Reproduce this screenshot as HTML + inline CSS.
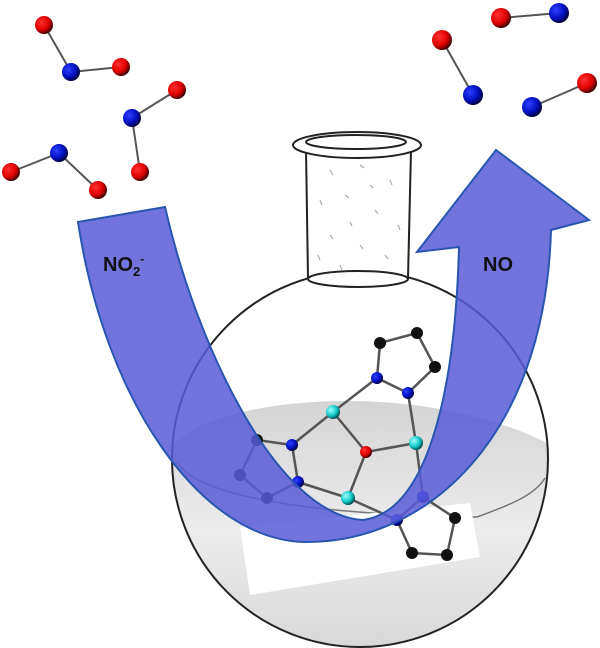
<!DOCTYPE html>
<html><head><style>html,body{margin:0;padding:0;background:#fff;width:600px;height:648px;overflow:hidden}</style></head>
<body>
<svg width="600" height="648" viewBox="0 0 600 648" xmlns="http://www.w3.org/2000/svg">
<defs>
<radialGradient id="r" cx="0.35" cy="0.35" r="0.7"><stop offset="0" stop-color="#ff3030"/><stop offset="0.6" stop-color="#e00000"/><stop offset="1" stop-color="#300000"/></radialGradient>
<radialGradient id="b" cx="0.35" cy="0.35" r="0.7"><stop offset="0" stop-color="#3040ff"/><stop offset="0.6" stop-color="#0010c0"/><stop offset="1" stop-color="#000030"/></radialGradient>
<radialGradient id="c" cx="0.35" cy="0.35" r="0.7"><stop offset="0" stop-color="#a0ffff"/><stop offset="0.6" stop-color="#10c8c8"/><stop offset="1" stop-color="#004040"/></radialGradient>
<linearGradient id="liq" x1="0" y1="0" x2="0" y2="1"><stop offset="0" stop-color="#d4d4d4"/><stop offset="0.5" stop-color="#ececec"/><stop offset="1" stop-color="#d6d6d6"/></linearGradient>
<clipPath id="ball"><circle cx="360" cy="459" r="188"/></clipPath>
</defs>

<g clip-path="url(#ball)">
<path d="M170,455 C180,400 420,370 560,450 L560,660 L160,660 Z" fill="url(#liq)"/>
<path d="M177,462 C200,500 330,515 477,517 C510,505 535,495 545,478" fill="none" stroke="#777" stroke-width="1.5"/>
<polygon points="240,527 470,503 480,557 250,595" fill="#fff"/>
</g>
<circle cx="360" cy="459" r="188" fill="none" stroke="#222" stroke-width="2"/>

<path d="M306,150 L308,278 L408,278 L411,150 Z" fill="#fff" stroke="#222" stroke-width="2"/>
<ellipse cx="358" cy="279" rx="50" ry="8" fill="#fff" stroke="#222" stroke-width="2"/>
<ellipse cx="357" cy="145" rx="64" ry="13" fill="#fff" stroke="#222" stroke-width="2"/>
<ellipse cx="356" cy="142" rx="50" ry="7" fill="#fff" stroke="#222" stroke-width="2"/>
<g stroke="#aaa" stroke-width="1.2">
<line x1="330" y1="170" x2="333" y2="175"/><line x1="360" y1="165" x2="364" y2="168"/><line x1="390" y1="180" x2="392" y2="185"/>
<line x1="320" y1="200" x2="322" y2="205"/><line x1="345" y1="195" x2="349" y2="198"/><line x1="375" y1="210" x2="378" y2="214"/>
<line x1="398" y1="225" x2="400" y2="230"/><line x1="330" y1="235" x2="333" y2="239"/><line x1="360" y1="245" x2="363" y2="249"/>
<line x1="318" y1="255" x2="320" y2="260"/><line x1="385" y1="255" x2="388" y2="259"/><line x1="350" y1="222" x2="352" y2="226"/>
<line x1="370" y1="185" x2="373" y2="188"/><line x1="340" y1="265" x2="342" y2="270"/>
</g>

<g stroke="#555" stroke-width="2.5">
<polyline points="377,378 380,343 417,333 435,367 408,393 377,378" fill="none"/>
<line x1="333" y1="412" x2="377" y2="378"/><line x1="408" y1="393" x2="416" y2="443"/>
<line x1="333" y1="412" x2="366" y2="452"/><line x1="366" y1="452" x2="416" y2="443"/><line x1="366" y1="452" x2="348" y2="498"/>
<line x1="333" y1="412" x2="292" y2="445"/>
<polyline points="298,482 292,445 257,440 240,475 267,498 298,482" fill="none"/>
<line x1="298" y1="482" x2="348" y2="498"/><line x1="348" y1="498" x2="397" y2="520"/><line x1="416" y1="443" x2="423" y2="497"/>
<polyline points="397,520 423,497 455,518 447,555 412,553 397,520" fill="none"/>
</g>
<g fill="#111">
<circle cx="380" cy="343" r="6"/><circle cx="417" cy="333" r="6"/><circle cx="435" cy="367" r="6"/>
<circle cx="257" cy="440" r="6"/><circle cx="240" cy="475" r="6"/><circle cx="267" cy="498" r="6"/>
<circle cx="455" cy="518" r="6"/><circle cx="447" cy="555" r="6"/><circle cx="412" cy="553" r="6"/>
</g>
<g fill="url(#b)">
<circle cx="408" cy="393" r="6"/><circle cx="377" cy="378" r="6"/><circle cx="292" cy="445" r="6"/><circle cx="298" cy="482" r="6"/><circle cx="423" cy="497" r="6"/><circle cx="397" cy="520" r="6"/>
</g>
<g fill="url(#c)"><circle cx="333" cy="412" r="7"/><circle cx="416" cy="443" r="7"/><circle cx="348" cy="498" r="7"/></g>
<circle cx="366" cy="452" r="6" fill="url(#r)"/>

<path d="M78,222 L165,207 C195,340 275,515 363,520 C425,512 455,400 459,247 L417,252 L496,150 L589,220 L551,230 C545,440 425,543 305,542 C200,540 105,400 78,222 Z" fill="#5a5ad8" fill-opacity="0.85" stroke="#2a55b0" stroke-width="2"/>
<text x="103" y="271" font-family="Liberation Sans, sans-serif" font-weight="bold" font-size="20" fill="#111">NO<tspan font-size="13" dy="5">2</tspan><tspan font-size="12" dy="-13">-</tspan></text>
<text x="483" y="271" font-family="Liberation Sans, sans-serif" font-weight="bold" font-size="20" fill="#111">NO</text>

<g stroke="#555" stroke-width="2">
<polyline points="44,25 71,72 121,67" fill="none"/>
<polyline points="177,90 132,118 140,172" fill="none"/>
<polyline points="11,172 59,153 98,190" fill="none"/>
<line x1="501" y1="18" x2="559" y2="13"/><line x1="442" y1="40" x2="473" y2="95"/><line x1="532" y1="107" x2="587" y2="83"/>
</g>
<g fill="url(#r)">
<circle cx="44" cy="25" r="9"/><circle cx="121" cy="67" r="9"/><circle cx="177" cy="90" r="9"/><circle cx="140" cy="172" r="9"/>
<circle cx="11" cy="172" r="9"/><circle cx="98" cy="190" r="9"/><circle cx="501" cy="18" r="10"/><circle cx="442" cy="40" r="10"/><circle cx="587" cy="83" r="10"/>
</g>
<g fill="url(#b)">
<circle cx="71" cy="72" r="9"/><circle cx="132" cy="118" r="9"/><circle cx="59" cy="153" r="9"/>
<circle cx="559" cy="13" r="10"/><circle cx="473" cy="95" r="10"/><circle cx="532" cy="107" r="10"/>
</g>
</svg>
</body></html>
